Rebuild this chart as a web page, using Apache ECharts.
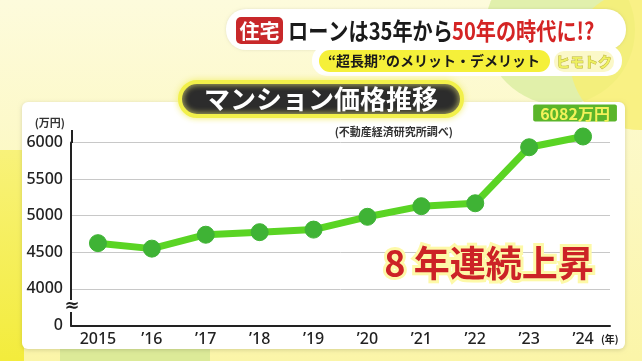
<!DOCTYPE html>
<html><head><meta charset="utf-8">
<script src="https://cdn.jsdelivr.net/npm/echarts@6/dist/echarts.min.js"></script>
<style>html,body{margin:0;padding:0;background:#fcf8c8;}#c{width:642px;height:361px;}</style>
</head><body><div id="c"></div>
<script>
const categories = ['2015', '\u201916', '\u201917', '\u201918', '\u201919', '\u201920', '\u201921', '\u201922', '\u201923', '\u201924'];
const prices = [4625, 4550, 4740, 4775, 4810, 4985, 5130, 5170, 5935, 6082];
const yTicks = [3500, 4000, 4500, 5000, 5500, 6000];
const yTickText = ['0', '4000', '4500', '5000', '5500', '6000'];
const lastLabel = '6082万円';

const JP = '"Noto Sans CJK JP", "Noto Sans", sans-serif';
const chart = echarts.init(document.getElementById('c'), null, {renderer: 'canvas'});

const option = {
  backgroundColor: {
    type: 'linear', x: 0, y: 0, x2: 0, y2: 1,
    colorStops: [{offset: 0, color: '#fdfbdc'}, {offset: 1, color: '#fbf5a8'}]
  },
  animation: false,
  graphic: [
    // background decorations
    {type: 'rect', z: -10, shape: {x: 0, y: 150, width: 24, height: 211}, style: {fill: {type: 'linear', x: 0, y: 0, x2: 0, y2: 1, colorStops: [{offset: 0, color: '#f8f27a'}, {offset: 1, color: '#f3ec3c'}]}}},
    {type: 'rect', z: -10, shape: {x: 60, y: 348, width: 150, height: 13}, style: {fill: '#dcea98'}},
    {type: 'circle', z: -10, shape: {cx: 560, cy: 30, r: 75}, style: {fill: '#d9eea0', opacity: 0.8}},
    {type: 'circle', z: -10, shape: {cx: 640, cy: 60, r: 70}, style: {fill: '#f8ef70', opacity: 0.8}},
    // white panel
    {type: 'rect', z: -5, shape: {x: 22, y: 102, width: 603, height: 247, r: 6}, style: {fill: '#ffffff', shadowBlur: 4, shadowColor: 'rgba(0,0,0,0.15)', shadowOffsetY: 1}},
    // header banner
    {type: 'rect', z: 1, shape: {x: 226, y: 9, width: 400, height: 41, r: 20}, style: {fill: '#ffffff', shadowBlur: 3, shadowColor: 'rgba(0,0,0,0.1)'}},
    {type: 'rect', z: 1, shape: {x: 312, y: 45, width: 310, height: 31, r: 15}, style: {fill: '#ffffff'}},
    {type: 'rect', z: 2, shape: {x: 319, y: 50, width: 231, height: 22, r: 11}, style: {fill: '#f5f03a'}},
    {type: 'rect', z: 2, shape: {x: 236, y: 17, width: 47, height: 27, r: 5}, style: {fill: '#c8282a'}},
    {type: 'text', z: 3, style: {x: 259.5, y: 31, text: '住宅', fill: '#ffffff', font: 'bold 20px ' + JP, textAlign: 'center', textVerticalAlign: 'middle'}},
    {type: 'text', z: 3, x: 288, y: 31, scaleX: 0.84, style: {x: 0, y: 0, text: 'ローンは35年から', fill: '#1a1a1a', font: 'bold 24px ' + JP, textAlign: 'left', textVerticalAlign: 'middle'}},
    {type: 'text', z: 3, x: 452, y: 31, scaleX: 0.84, style: {x: 0, y: 0, text: '50年の時代に!?', fill: '#d42424', font: 'bold 24px ' + JP, textAlign: 'left', textVerticalAlign: 'middle'}},
    {type: 'text', z: 3, style: {x: 328, y: 61, text: '\u201c超長期\u201dのメリット・デメリット', fill: '#1a1a1a', font: 'bold 14px ' + JP, textAlign: 'left', textVerticalAlign: 'middle'}},
    {type: 'rect', z: 2, shape: {x: 554, y: 51, width: 60, height: 21, r: 10}, style: {fill: '#fbf8c8'}},
    {type: 'text', z: 3, style: {x: 584, y: 61.5, text: 'ヒモトク', fill: '#eef060', stroke: '#b9b040', lineWidth: 1, font: 'bold 14px ' + JP, textAlign: 'center', textVerticalAlign: 'middle'}},
    // title pill
    {type: 'rect', z: 2, shape: {x: 180, y: 82, width: 282, height: 34, r: 17}, style: {fill: '#2c2c2c', stroke: '#f2f04a', lineWidth: 4, shadowBlur: 6, shadowColor: '#f4f07a'}},
    {type: 'text', z: 3, style: {x: 321, y: 99, text: 'マンション価格推移', fill: '#ffffff', font: 'bold 26px ' + JP, textAlign: 'center', textVerticalAlign: 'middle'}},
    {type: 'text', z: 3, style: {x: 453, y: 132, text: '(不動産経済研究所調べ)', fill: '#333333', font: 'bold 11px ' + JP, textAlign: 'right', textVerticalAlign: 'middle'}},
    // annotation
    {type: 'text', z: 5, style: {x: 489, y: 263, text: '8 年連続上昇', fill: '#cc2226', stroke: '#fdf9a8', lineWidth: 6, font: 'bold 36px ' + JP, textAlign: 'center', textVerticalAlign: 'middle', shadowBlur: 6, shadowColor: '#f6f070'}},
    // axis extension above 6000, break mark, x unit
    {type: 'line', z: 4, shape: {x1: 72, y1: 130, x2: 72, y2: 143}, style: {stroke: '#222', lineWidth: 2}},
    {type: 'rect', z: 6, shape: {x: 66, y: 300, width: 12, height: 12}, style: {fill: '#ffffff'}},
    {type: 'text', z: 7, style: {x: 72, y: 306, text: '≈', fill: '#222', font: 'bold 18px "DejaVu Sans"', textAlign: 'center', textVerticalAlign: 'middle'}},
    {type: 'text', z: 7, style: {x: 601, y: 339, text: '(年)', fill: '#222', font: 'bold 10px ' + JP, textAlign: 'left', textVerticalAlign: 'middle'}}
  ],
  grid: {left: 71, right: 32, top: 142.5, bottom: 35.5},
  xAxis: {
    type: 'category', data: categories, boundaryGap: true,
    axisLine: {lineStyle: {color: '#222', width: 2}},
    axisTick: {show: false},
    axisLabel: {color: '#222', fontSize: 16, fontWeight: 500, fontFamily: '"Noto Sans", sans-serif', margin: 6}
  },
  yAxis: {
    type: 'value', min: 3500, max: 6000, interval: 500,
    axisLine: {show: true, lineStyle: {color: '#222', width: 2}},
    axisTick: {show: false},
    splitLine: {lineStyle: {color: '#c8c8c8', width: 1}},
    axisLabel: {
      color: '#222', fontSize: 16, fontWeight: 500, fontFamily: '"Noto Sans", sans-serif', margin: 8,
      formatter: v => { const i = yTicks.indexOf(v); return i >= 0 ? yTickText[i] : ''; }
    },
    name: '(万円)', nameLocation: 'end', nameGap: 14,
    nameTextStyle: {color: '#333', fontSize: 11, fontWeight: 'bold', fontFamily: JP, align: 'right', padding: [0, 6, 0, 0]}
  },
  series: [{
    type: 'line', data: prices.map((v, i) => i === prices.length - 1 ? {
      value: v,
      label: {show: true, position: 'top', distance: 6, offset: [-8, 0], formatter: lastLabel,
        color: '#f2f25a', backgroundColor: '#5ab52a', fontSize: 16, fontWeight: 'bold', fontFamily: JP,
        padding: [1, 7, 0, 7], borderRadius: 2}
    } : v),
    clip: false,
    symbol: 'circle', symbolSize: 17,
    lineStyle: {color: '#5ad424', width: 7},
    itemStyle: {color: '#3fb335', borderColor: '#3fb335'},
    z: 3
  }]
};
chart.setOption(option);
</script></body></html>
